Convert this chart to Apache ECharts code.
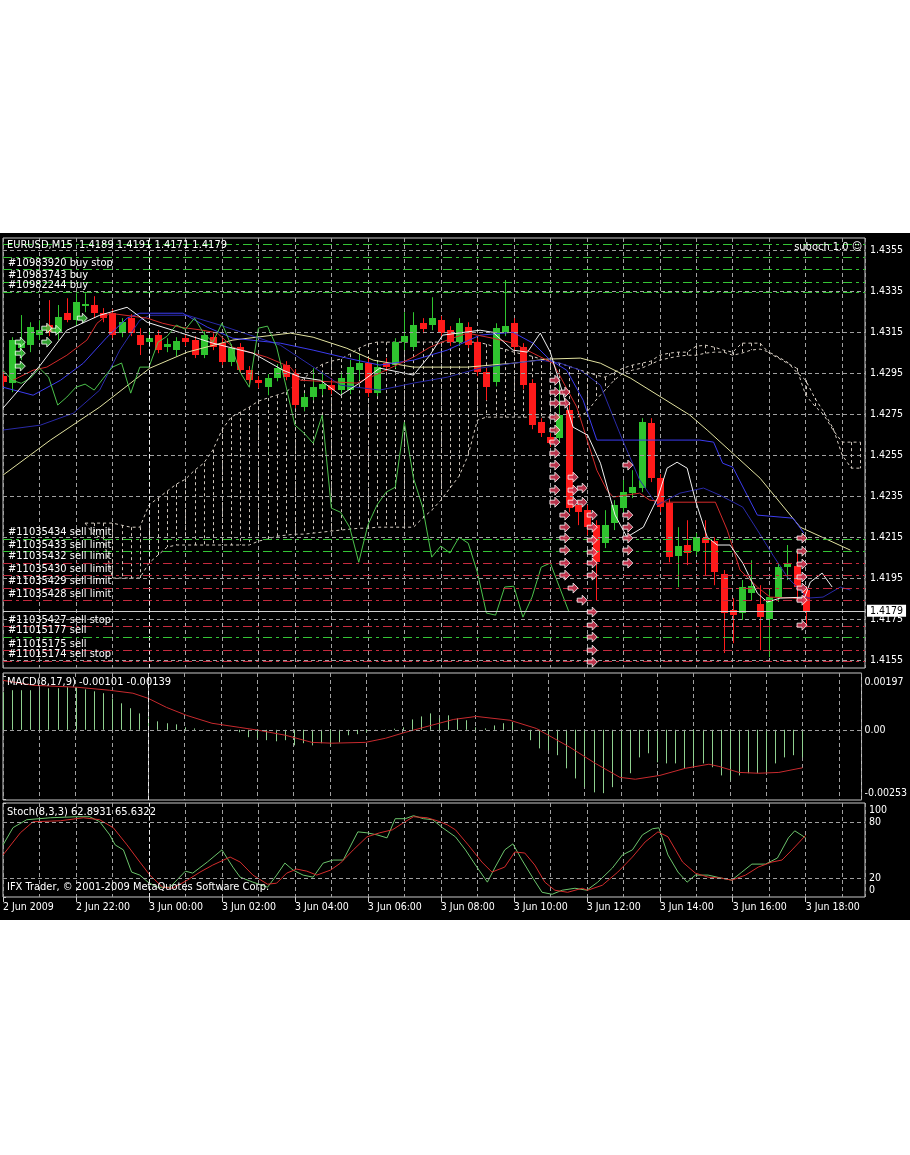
<!DOCTYPE html>
<html><head><meta charset="utf-8">
<script src="https://cdn.jsdelivr.net/npm/echarts@6/dist/echarts.min.js"></script>
<style>
html,body{margin:0;padding:0;background:#fff;width:910px;height:1155px;overflow:hidden;}
#chart{position:absolute;left:0;top:233px;width:910px;height:687px;background:#000;}
</style></head><body><div id="chart"></div>
<script>
// ---------------- DATA ----------------
const priceTicks = [1.4155, 1.4175, 1.4195, 1.4215, 1.4235, 1.4255, 1.4275, 1.4295, 1.4315, 1.4335, 1.4355];
const xTickBars = [0, 8, 16, 24, 32, 40, 48, 56, 64, 72, 80, 88];
const xTickLabels = ['2 Jun 2009','2 Jun 22:00','3 Jun 00:00','3 Jun 02:00','3 Jun 04:00','3 Jun 06:00','3 Jun 08:00','3 Jun 10:00','3 Jun 12:00','3 Jun 14:00','3 Jun 16:00','3 Jun 18:00'];
const dayStartBar = 16;
const currentPrice = 1.4179;

const opens = [1.42935,1.42900,1.43072,1.43087,1.43135,1.43184,1.43144,1.43242,1.43208,1.43277,
1.43282,1.43242,1.43242,1.43144,1.43218,1.43135,1.43101,1.43135,1.43077,1.43062,
1.43120,1.43111,1.43038,1.43125,1.43096,1.43003,1.43077,1.42964,1.42915,1.42881,
1.42925,1.42989,1.42950,1.42784,1.42833,1.42871,1.42891,1.42867,1.42867,1.42964,
1.42999,1.42852,1.42999,1.42989,1.43101,1.43077,1.43193,1.43184,1.43208,1.43159,
1.43101,1.43174,1.43101,1.42954,1.42905,1.43149,1.43193,1.43077,1.42900,1.42710,
1.42638,1.42633,1.42769,1.42306,1.42281,1.42208,1.42120,1.42218,1.42291,1.42364,
1.42389,1.42705,1.42437,1.42315,1.42057,1.42111,1.42081,1.42145,1.42130,1.41969,
1.41793,1.41779,1.41876,1.41823,1.41750,1.41857,1.42003,1.42008,1.4189];
const closes = [1.42905,1.43111,1.43096,1.43174,1.43159,1.43149,1.43223,1.43208,1.43296,1.43286,
1.43242,1.43218,1.43135,1.43198,1.43144,1.43087,1.43120,1.43062,1.43091,1.43106,
1.43101,1.43038,1.43135,1.43077,1.43003,1.43072,1.42964,1.42915,1.42900,1.42925,
1.42974,1.42930,1.42794,1.42833,1.42881,1.42896,1.42867,1.42925,1.42979,1.42999,
1.42852,1.42979,1.42979,1.43101,1.43130,1.43184,1.43164,1.43218,1.43144,1.43101,
1.43193,1.43087,1.42954,1.42881,1.43169,1.43179,1.43077,1.42891,1.42696,1.42657,
1.42608,1.42745,1.42291,1.42271,1.42198,1.42027,1.42208,1.42306,1.42369,1.42393,
1.42710,1.42437,1.42296,1.42052,1.42106,1.42072,1.42149,1.42120,1.41979,1.41779,
1.41769,1.41906,1.41910,1.41759,1.41857,1.42003,1.42023,1.41906,1.4179];
const lows = [1.42886,1.42857,1.43013,1.43052,1.43111,1.43130,1.43111,1.43198,1.43184,1.43247,
1.43218,1.43198,1.43120,1.43125,1.43130,1.43038,1.43082,1.43047,1.43052,1.43033,
1.43082,1.43023,1.43023,1.43062,1.42989,1.42984,1.42950,1.42896,1.42876,1.42842,
1.42910,1.42915,1.42779,1.42764,1.42818,1.42842,1.42847,1.42847,1.42847,1.42915,
1.42833,1.42838,1.42959,1.42974,1.43062,1.43062,1.43144,1.43159,1.43130,1.43082,
1.43082,1.43072,1.42935,1.42818,1.42886,1.43130,1.43057,1.42871,1.42676,1.42638,
1.42589,1.42613,1.42271,1.42208,1.42159,1.41842,1.42096,1.42184,1.42271,1.42340,
1.42369,1.42418,1.42271,1.42027,1.41906,1.42013,1.42062,1.41964,1.41915,1.41584,
1.41632,1.41745,1.41842,1.41598,1.41564,1.41833,1.41940,1.41842,1.4171];
const highs = [1.42954,1.43125,1.43233,1.43198,1.43208,1.43306,1.43282,1.43315,1.43339,1.43339,
1.43325,1.43267,1.43262,1.43218,1.43237,1.43169,1.43159,1.43159,1.43120,1.43125,
1.43140,1.43130,1.43154,1.43144,1.43116,1.43091,1.43096,1.42984,1.42935,1.42945,
1.42994,1.43008,1.42969,1.42852,1.42974,1.42954,1.42925,1.42954,1.43013,1.43038,
1.43023,1.43003,1.43023,1.43120,1.43247,1.43247,1.43218,1.43320,1.43228,1.43179,
1.43218,1.43198,1.43120,1.42974,1.43193,1.43404,1.43218,1.43096,1.42920,1.42730,
1.42657,1.42915,1.42794,1.42330,1.42306,1.42232,1.42281,1.42330,1.42428,1.42476,
1.42730,1.42730,1.42457,1.42335,1.42198,1.42232,1.42169,1.42232,1.42149,1.41989,
1.41852,1.41940,1.42037,1.41915,1.41891,1.42023,1.42111,1.42086,1.4191];

// Ichimoku
const chikou = [1.42964,1.42915,1.42900,1.42925,1.42974,1.42930,1.42794,1.42833,1.42881,1.42896,
1.42867,1.42925,1.42979,1.42999,1.42852,1.42979,1.42979,1.43101,1.43130,1.43184,
1.43164,1.43218,1.43144,1.43101,1.43193,1.43087,1.42954,1.42881,1.43169,1.43179,
1.43077,1.42891,1.42696,1.42657,1.42608,1.42745,1.42291,1.42271,1.42198,1.42027,
1.42208,1.42306,1.42369,1.42393,1.42710,1.42437,1.42296,1.42052,1.42106,1.42072,
1.42149,1.42120,1.41979,1.41779,1.41769,1.41906,1.41910,1.41759,1.41857,1.42003,
1.42023,1.41906,1.4179];
const spanStart = 9;
const spanA = [1.42218,1.42218,1.42218,1.42218,1.42208,1.42198,1.42198,1.42306,1.42340,1.42374,
1.42408,1.42432,1.42476,1.42510,1.42574,1.42672,1.42735,1.42759,1.42784,1.42813,
1.42828,1.42842,1.42857,1.42891,1.42925,1.42964,1.42993,1.43008,1.43018,1.43042,
1.43071,1.43091,1.43101,1.43101,1.43101,1.43101,1.43101,1.43101,1.43101,1.43101,
1.43101,1.43101,1.43101,1.43101,1.43091,1.43076,1.43067,1.43052,1.43042,1.43032,
1.43018,1.43008,1.42998,1.42984,1.42969,1.42954,1.42940,1.42930,1.42954,1.42974,
1.42989,1.42998,1.43008,1.43037,1.43047,1.43052,1.43052,1.43081,1.43086,1.43076,
1.43062,1.43052,1.43096,1.43096,1.43096,1.43047,1.43023,1.42998,1.42974,1.42842,
1.42789,1.42745,1.42672,1.42613,1.42613,1.42613];
const spanB = [1.42218,1.42159,1.42145,1.41950,1.41950,1.41950,1.41950,1.42023,1.42062,1.42101,
1.42111,1.42111,1.42111,1.42111,1.42111,1.42111,1.42111,1.42111,1.42111,1.42130,
1.42140,1.42154,1.42159,1.42164,1.42164,1.42169,1.42174,1.42179,1.42184,1.42188,
1.42193,1.42193,1.42198,1.42198,1.42198,1.42198,1.42198,1.42242,1.42281,1.42330,
1.42389,1.42447,1.42550,1.42720,1.42735,1.42735,1.42735,1.42735,1.42735,1.42735,
1.42735,1.42735,1.42735,1.42735,1.42735,1.42759,1.42818,1.42867,1.42915,1.42950,
1.42964,1.42974,1.42993,1.43013,1.43023,1.43032,1.43037,1.43037,1.43047,1.43052,
1.43052,1.43037,1.43047,1.43062,1.43067,1.43052,1.43028,1.43003,1.42954,1.42915,
1.42828,1.42759,1.42681,1.42550,1.42486,1.42486];
const tenkan = [[1.1,1.42915],[3.3,1.42964],[4.8,1.42979],[7.0,1.43037],[9.2,1.43111],[10.3,1.43193],[11.7,1.43242],[15.8,1.43218],[17.5,1.43193],[19.4,1.43174],[21.9,1.43159],[23.5,1.43145],[25.2,1.43076],[28.9,1.43028],[31.5,1.42979],[32.6,1.42915],[38.8,1.42901],[41.3,1.42950],[45.0,1.43028],[46.8,1.43076],[48.7,1.43111],[50.9,1.43145],[53.7,1.43120],[55.9,1.43096],[58.1,1.43047],[60.3,1.42998],[62.9,1.42784],[63.6,1.42686],[65.1,1.42476],[66.2,1.42379],[66.9,1.42345],[69.8,1.42364],[70.9,1.42330],[72.8,1.42320],[78.1,1.42320],[79.4,1.42184],[80.8,1.41989],[82.7,1.41906],[84.1,1.41857],[86.6,1.41852],[87.8,1.41842]];
const kijun = [[0,1.42881],[3.3,1.42842],[6.3,1.42915],[8.8,1.42998],[11.4,1.43125],[13.6,1.43218],[15.0,1.43242],[19.7,1.43242],[22.4,1.43174],[25.2,1.43120],[30.4,1.43096],[34.0,1.43062],[37.7,1.43023],[41.3,1.42989],[45.0,1.43013],[48.7,1.43062],[52.3,1.43135],[55.9,1.43149],[58.1,1.43096],[60.0,1.43013],[61.8,1.42964],[63.6,1.42818],[65.1,1.42623],[76.4,1.42623],[77.9,1.42613],[78.9,1.42510],[80.0,1.42491],[82.7,1.42257],[86.6,1.42242],[87.8,1.42169]];
// moving averages
const maWhite = [[0,1.42779],[4.1,1.42989],[7.0,1.43159],[10.6,1.43232],[13.6,1.43271],[15.8,1.43198],[18.6,1.43159],[23.0,1.43096],[27.4,1.43047],[30.7,1.42964],[32.6,1.42930],[34.8,1.42915],[37.0,1.42842],[39.1,1.42901],[41.3,1.42974],[43.5,1.42954],[45.0,1.42940],[46.8,1.43037],[48.2,1.43135],[52.3,1.43159],[53.7,1.43149],[55.9,1.43062],[57.5,1.43052],[58.9,1.43145],[60.0,1.43052],[61.1,1.42891],[62.5,1.42686],[64.1,1.42647],[65.5,1.42510],[67.1,1.42257],[68.4,1.42150],[70.2,1.42198],[71.8,1.42345],[72.8,1.42486],[73.9,1.42515],[75.0,1.42486],[75.9,1.42330],[77.2,1.42150],[78.3,1.42111],[79.7,1.42111],[81.1,1.42023],[82.7,1.41876],[83.8,1.41833],[85.2,1.41852],[87.9,1.41857],[88.5,1.41930],[89.8,1.41974],[90.9,1.41906]];
const maKhaki = [[0,1.42452],[5.2,1.42623],[10.6,1.42784],[16.1,1.42974],[20.2,1.43052],[25.2,1.43111],[31.5,1.43145],[34.0,1.43125],[37.7,1.43071],[40.6,1.43013],[45.0,1.42979],[50.9,1.42979],[55.9,1.42998],[59.6,1.43018],[63.3,1.43023],[65.5,1.42998],[68.8,1.42925],[75.3,1.42745],[77.2,1.42672],[83.0,1.42437],[87.4,1.42198],[92.9,1.42086]];
const maNavy = [[0,1.42672],[4.1,1.42696],[7.7,1.42754],[10.6,1.42867],[12.8,1.43062],[15.0,1.43208],[16.1,1.43232],[20.2,1.43232],[23.8,1.43184],[27.1,1.43135],[30.4,1.43086],[33.7,1.42989],[37.0,1.42891],[41.3,1.42867],[45.0,1.42901],[48.7,1.42930],[52.3,1.42974],[55.9,1.42998],[58.9,1.43013],[61.1,1.42998],[63.3,1.42964],[65.5,1.42891],[67.7,1.42647],[69.8,1.42428],[71.7,1.42306],[74.2,1.42364],[76.8,1.42389],[78.6,1.42354],[81.1,1.42296],[82.7,1.42184],[84.4,1.42062],[86.0,1.41954],[88.2,1.41852],[89.9,1.41857],[91.8,1.41906],[92.9,1.41891]];

// trade arrows [bar, price]
const sellArrows = [[60.5,1.42915],[60.5,1.42857],[60.5,1.42803],[60.5,1.42735],[60.5,1.42672],[60.5,1.42613],[60.5,1.42559],[60.5,1.42501],[60.5,1.42442],[60.5,1.42379],[60.5,1.42320],
[61.6,1.42857],[61.6,1.42803],[61.6,1.42257],[61.6,1.42198],[61.6,1.42145],[61.6,1.42086],[61.6,1.42023],[61.6,1.41964],
[62.5,1.42442],[62.5,1.42379],[62.5,1.42320],[62.5,1.41901],
[63.5,1.42389],[63.5,1.42320],[63.5,1.41842],
[64.6,1.42257],[64.6,1.42198],[64.6,1.42135],[64.6,1.42076],[64.6,1.42023],[64.6,1.41964],[64.6,1.41784],[64.6,1.41720],[64.6,1.41662],[64.6,1.41598],[64.6,1.41540],
[68.5,1.42501],[68.5,1.42257],[68.5,1.42198],[68.5,1.42145],[68.5,1.42086],[68.5,1.42023],
[87.6,1.42145],[87.6,1.42081],[87.6,1.42018],[87.6,1.41955],[87.6,1.41901],[87.6,1.41842],[87.6,1.41720]];
const buyArrows = [[1.9,1.43101],[1.9,1.43047],[1.9,1.42984],[4.8,1.43169],[4.8,1.43101],[5.8,1.43159],[8.7,1.43218]];

// order lines
const orderPrices = [1.43579,1.43516,1.43457,1.43394,1.43345,1.42140,1.42081,1.42023,1.41964,1.41901,1.41842,1.41715,1.41662,1.41598,1.41545];
const orderLabels = ['','','#10983920 buy stop','#10983743 buy','#10982244 buy','#11035434 sell limit','#11035433 sell limit','#11035432 sell limit','#11035430 sell limit','#11035429 sell limit','#11035428 sell limit','#11035427 sell stop','#11015177 sell','#11015175 sell','#11015174 sell stop'];
const orderGroup = ['g','g','g','g','g','g','g','r','r','r','r','r','g','r','r'];

// MACD
const macdTicks = [-0.00253, 0, 0.00197];
const macdMain = [0.00138,0.00145,0.00145,0.00145,0.00145,0.00152,0.00152,0.00156,0.00156,0.00148,
0.00141,0.00134,0.00115,0.00097,0.00079,0.00060,0.00046,0.00031,0.00024,0.00020,
0.00009,0.00005,0.00001,0.0,-0.00002,-0.00004,-0.00009,-0.00027,-0.00031,-0.00038,
-0.00042,-0.00038,-0.00057,-0.00049,-0.00057,-0.00049,-0.00057,-0.00046,-0.00020,-0.00016,
-0.00009,-0.00002,0.00001,0.00004,0.00009,0.00038,0.00049,0.00060,0.00042,0.00053,
0.00042,0.00035,0.00009,0.00005,0.00016,0.00024,0.00027,0.00002,-0.00038,-0.00068,
-0.00075,-0.00093,-0.00141,-0.00178,-0.00210,-0.00229,-0.00232,-0.00210,-0.00178,-0.00159,
-0.00101,-0.00086,-0.00119,-0.00123,-0.00123,-0.00141,-0.00137,-0.00123,-0.00137,-0.00167,
-0.00185,-0.00167,-0.00159,-0.00159,-0.00156,-0.00123,-0.00101,-0.00093,-0.00101];
const macdSignal = [[0,0.00181],[3.3,0.00163],[8.1,0.00156],[11.7,0.00145],[14.3,0.00134],[16,0.00115],[18,0.00082],[20.2,0.00053],[23,0.00024],[26,0.00009],[28.2,-0.00002],[31.1,-0.00020],[34,-0.00046],[36.2,-0.00049],[39.9,-0.00046],[42.1,-0.00031],[44.3,-0.00009],[47.1,0.00016],[49.6,0.00038],[52.1,0.00049],[55.8,0.00035],[58.7,0.00005],[62.4,-0.00064],[65.2,-0.00123],[67.9,-0.00174],[69.6,-0.00181],[72.3,-0.00167],[75.1,-0.00141],[77.7,-0.00126],[78.8,-0.00134],[81,-0.00156],[83.2,-0.00159],[85.4,-0.00156],[88,-0.00139]];

// Stochastic
const stochTicks = [0, 20, 80, 100];
const stochLevels = [20, 80];
const stochK = [[0,55.4],[1.1,73.8],[2.6,82.2],[5.2,84.3],[8.1,85.4],[9.5,85.4],[10.6,80.1],[11.7,66.1],[12.3,55.4],[13.2,50.1],[14.1,26.5],[15,23.3],[15.9,15.8],[16.9,10.4],[18.3,10.4],[20,27.5],[20.8,25.4],[22.4,37.2],[24,50.1],[25.2,31.8],[26,21.1],[27.4,15.8],[29,10.4],[30,23.3],[30.9,36.1],[31.8,28.6],[32.9,23.3],[34,21.1],[35.1,36.1],[36.2,39.3],[37.3,39.3],[38.9,69.3],[39.9,68.3],[41,66.1],[42.1,62.9],[43,83.3],[44.1,83.3],[45,86.5],[46.1,83.3],[47.1,82.2],[48.2,73.6],[49.6,64.0],[50.7,50.1],[51.8,34.0],[53.1,15.8],[53.9,30.8],[55,50.1],[55.9,56.5],[56.9,39.3],[58.1,20.0],[59.1,5.0],[60.2,2.9],[61.3,7.2],[62.7,9.3],[64,7.2],[65.2,15.8],[66.8,30.8],[67.9,44.7],[69,50.1],[70.1,66.1],[71.2,72.6],[71.9,73.6],[72.9,44.7],[74,26.5],[75,15.8],[75.9,23.3],[77.3,23.3],[78.8,20.0],[79.9,17.9],[81,26.5],[82.1,35.0],[83.6,35.0],[84.9,41.5],[86.1,62.9],[86.8,70.4],[88,62.89]];
const stochD = [[0,44.7],[1.9,68.3],[3.3,80.1],[6.3,81.1],[8.8,84.3],[10.6,82.2],[12.1,73.6],[13.6,55.4],[15,37.2],[16.1,23.3],[17.5,10.4],[18.6,9.3],[20.2,17.9],[21.6,26.5],[23,34.0],[24.9,42.5],[26,37.2],[27.4,23.3],[29,13.6],[30,14.7],[31.1,25.4],[32.2,29.7],[33.3,27.5],[34.4,23.3],[35.9,28.6],[37,36.1],[38.4,50.1],[39.9,64.0],[41.3,68.3],[42.7,71.5],[43.9,79.0],[45,85.4],[46.5,84.3],[47.6,81.1],[48.7,76.8],[49.6,71.5],[51,55.4],[52.5,37.2],[53.6,26.5],[55,31.8],[56.1,47.9],[57.2,46.8],[58.3,34.0],[59.4,15.8],[60.5,7.2],[61.9,5.0],[63.5,9.3],[64.1,7.2],[65.7,12.5],[67.4,26.5],[69,42.5],[70.4,58.6],[71.8,69.3],[72.9,64.0],[74.5,37.2],[75.9,25.4],[77.3,21.1],[78.8,20.0],[79.9,17.9],[81.4,23.3],[82.8,31.8],[84.3,37.2],[85.4,39.3],[86.5,50.1],[88,65.63]];

// ---------------- CHART ----------------
const FONT = "'DejaVu Sans Condensed', 'Liberation Sans', sans-serif";
const GRIDC = '#a0a0a0';
const FRAME = '#c8c8c8';
const XMAX = 94.5;
const chart = echarts.init(document.getElementById('chart'), null, {renderer: 'canvas'});

const candleData = opens.map((o, i) => [i, o, closes[i], lows[i], highs[i]]);
const cloudData = spanA.map((a, k) => [k + spanStart, a, spanB[k]]);
const spanAData = spanA.map((a, k) => [k + spanStart, a]);
const spanBData = spanB.map((b, k) => [k + spanStart, b]);
const chikouData = chikou.map((v, i) => [i, v]);
const macdData = macdMain.map((v, i) => [i, v]);

function xAxisBase(gi) {
  return {gridIndex: gi, type: 'value', min: 0, max: XMAX, interval: 4,
    axisLine: {show: false}, axisTick: {show: false}, axisLabel: {show: false},
    splitLine: {show: true, lineStyle: {color: GRIDC, type: [4, 3], width: 1}}};
}
const sepLine = {xAxis: dayStartBar, lineStyle: {color: '#ececec', type: [4, 3], width: 1}, label: {show: false}};
const gridDash = {color: GRIDC, type: [4, 3], width: 1};

const option = {
  animation: false,
  backgroundColor: '#000',
  textStyle: {fontFamily: FONT},
  grid: [
    {left: 3, top: 5, width: 862, height: 430, show: true, borderColor: FRAME, borderWidth: 1, backgroundColor: 'transparent'},
    {left: 3, top: 440, width: 862, height: 127, show: true, borderColor: FRAME, borderWidth: 1, backgroundColor: 'transparent'},
    {left: 3, top: 570, width: 862, height: 94, show: true, borderColor: FRAME, borderWidth: 1, backgroundColor: 'transparent'}
  ],
  xAxis: [
    xAxisBase(0), xAxisBase(1), xAxisBase(2),
    {gridIndex: 2, type: 'value', min: 0, max: XMAX, position: 'bottom',
      axisLine: {show: false}, splitLine: {show: false},
      axisTick: {show: true, customValues: xTickBars, length: 5, lineStyle: {color: FRAME}},
      axisLabel: {show: true, customValues: xTickBars, color: '#fff', fontSize: 10.5, fontFamily: FONT, align: 'left', margin: 5,
        formatter: v => xTickLabels[xTickBars.indexOf(Math.round(v))] || ''}}
  ],
  yAxis: [
    {gridIndex: 0, type: 'value', position: 'right', min: 1.41511, max: 1.43609,
      axisLine: {show: false}, splitLine: {show: false},
      axisTick: {show: true, customValues: priceTicks, length: 4, lineStyle: {color: FRAME}},
      axisLabel: {customValues: priceTicks, color: '#fff', fontSize: 10.5, fontFamily: FONT, margin: 5, formatter: v => v.toFixed(4)}},
    {gridIndex: 1, type: 'value', position: 'right', min: -0.00257, max: 0.00208,
      axisLine: {show: false}, splitLine: {show: false},
      axisTick: {show: true, customValues: macdTicks, length: 3, lineStyle: {color: FRAME}},
      axisLabel: {customValues: macdTicks, color: '#fff', fontSize: 10.5, fontFamily: FONT, margin: 3,
        formatter: v => v > 0.0005 ? '{t|' + v.toFixed(5) + '}' : (v < -0.0005 ? '{b|' + v.toFixed(5) + '}' : '0.00'),
        rich: {t: {padding: [12, 0, 0, 0], color: '#fff', fontSize: 10.5, fontFamily: FONT},
               b: {padding: [0, 0, 12, 0], color: '#fff', fontSize: 10.5, fontFamily: FONT}}}},
    {gridIndex: 2, type: 'value', position: 'right', min: 0, max: 100,
      axisLine: {show: false}, splitLine: {show: false},
      axisTick: {show: true, customValues: stochTicks, length: 3, lineStyle: {color: FRAME}},
      axisLabel: {customValues: stochTicks, color: '#fff', fontSize: 10.5, fontFamily: FONT, margin: 4,
        formatter: v => v === 100 ? '{t|100}' : (v === 0 ? '{b|0}' : String(v)),
        rich: {t: {padding: [15, 0, 0, 0], color: '#fff', fontSize: 10.5, fontFamily: FONT},
               b: {padding: [0, 0, 13, 0], color: '#fff', fontSize: 10.5, fontFamily: FONT}}}}
  ],
  series: [
    // Ichimoku cloud hatching
    {type: 'custom', name: 'cloud', xAxisIndex: 0, yAxisIndex: 0, clip: true, z: 1, silent: true,
      encode: {x: 0, y: [1, 2]}, data: cloudData,
      renderItem: (params, api) => {
        const p1 = api.coord([api.value(0), api.value(1)]);
        const p2 = api.coord([api.value(0), api.value(2)]);
        const x = Math.round(p1[0]) + 0.5;
        return {type: 'line', shape: {x1: x, y1: p1[1], x2: x, y2: p2[1]},
          style: {stroke: '#cfc6bc', lineWidth: 1, lineDash: [3, 3]}};
      }},
    {type: 'line', name: 'spanA', xAxisIndex: 0, yAxisIndex: 0, data: spanAData, showSymbol: false, z: 1, silent: true,
      lineStyle: {color: '#d8cfc4', width: 1, type: [3, 3]},
      markLine: {silent: true, symbol: ['none', 'none'], precision: 5, animation: false,
        data: priceTicks.map(v => ({yAxis: v, lineStyle: gridDash, label: {show: false}})).concat([sepLine])}},
    {type: 'line', name: 'spanB', xAxisIndex: 0, yAxisIndex: 0, data: spanBData, showSymbol: false, z: 1, silent: true,
      lineStyle: {color: '#d8cfc4', width: 1, type: [3, 3]}},
    // Candles
    {type: 'custom', name: 'EURUSD', xAxisIndex: 0, yAxisIndex: 0, clip: true, z: 3, silent: true,
      encode: {x: 0, y: [1, 2, 3, 4]}, data: candleData,
      renderItem: (params, api) => {
        const x = api.value(0), o = api.value(1), c = api.value(2), l = api.value(3), h = api.value(4);
        const po = api.coord([x, o]), pc = api.coord([x, c]), pl = api.coord([x, l]), ph = api.coord([x, h]);
        const col = c >= o ? '#2fc42f' : '#ff1a1a';
        const x0 = Math.round(po[0]);
        const top = Math.round(Math.min(po[1], pc[1])), bot = Math.round(Math.max(po[1], pc[1]));
        return {type: 'group', children: [
          {type: 'line', shape: {x1: x0 + 0.5, y1: ph[1], x2: x0 + 0.5, y2: pl[1]}, style: {stroke: col, lineWidth: 1}},
          {type: 'rect', shape: {x: x0 - 3, y: top, width: 7, height: Math.max(1, bot - top)}, style: {fill: col}}
        ]};
      }},
    // Indicator lines
    {type: 'line', name: 'khaki', xAxisIndex: 0, yAxisIndex: 0, data: maKhaki, showSymbol: false, z: 4, silent: true,
      lineStyle: {color: '#e2e2a0', width: 1},
      markLine: {silent: true, symbol: ['none', 'none'], precision: 5, animation: false,
        data: orderPrices.map((p, i) => ({yAxis: p, name: orderLabels[i],
          lineStyle: {color: orderGroup[i] === 'g' ? '#35c435' : '#c42a3e', type: [9, 4, 3, 4], width: 1},
          label: {show: orderLabels[i] !== '', position: 'insideStartTop', formatter: '{b}', color: '#fff',
            fontSize: 11, fontFamily: FONT, distance: [5, 1]}}))}},
    {type: 'line', name: 'navy', xAxisIndex: 0, yAxisIndex: 0, data: maNavy, showSymbol: false, z: 4, silent: true,
      lineStyle: {color: '#2a2aa8', width: 1}},
    {type: 'line', name: 'kijun', xAxisIndex: 0, yAxisIndex: 0, data: kijun, showSymbol: false, z: 4, silent: true,
      lineStyle: {color: '#3c3cf0', width: 1}},
    {type: 'line', name: 'tenkan', xAxisIndex: 0, yAxisIndex: 0, data: tenkan, showSymbol: false, z: 4, silent: true,
      lineStyle: {color: '#d42a2a', width: 1}},
    {type: 'line', name: 'chikou', xAxisIndex: 0, yAxisIndex: 0, data: chikouData, showSymbol: false, z: 4, silent: true,
      lineStyle: {color: '#4cc24c', width: 1}},
    {type: 'line', name: 'white', xAxisIndex: 0, yAxisIndex: 0, data: maWhite, showSymbol: false, z: 4, silent: true,
      lineStyle: {color: '#f2f2f2', width: 1},
      markLine: {silent: true, symbol: ['none', 'none'], precision: 5, animation: false,
        data: [
          {yAxis: currentPrice, lineStyle: {color: '#d0d0d0', type: 'solid', width: 1},
            label: {show: true, position: 'end', formatter: currentPrice.toFixed(4), color: '#000', backgroundColor: '#fff',
              padding: [1, 3, 0, 3], fontSize: 10.5, fontFamily: FONT, distance: 2}}
        ]}},
    // Trade arrows
    {type: 'scatter', name: 'sells', xAxisIndex: 0, yAxisIndex: 0, data: sellArrows, z: 6, silent: true,
      symbol: 'path://M0,3 L5,3 L5,0 L10,5 L5,10 L5,7 L0,7 Z', symbolSize: [10, 10],
      itemStyle: {color: '#e5405e', borderColor: '#ffffff', borderWidth: 1}},
    {type: 'scatter', name: 'buys', xAxisIndex: 0, yAxisIndex: 0, data: buyArrows, z: 6, silent: true,
      symbol: 'path://M0,3 L5,3 L5,0 L10,5 L5,10 L5,7 L0,7 Z', symbolSize: [10, 10],
      itemStyle: {color: '#3cc83c', borderColor: '#ffffff', borderWidth: 1}},
    // MACD
    {type: 'custom', name: 'macd', xAxisIndex: 1, yAxisIndex: 1, clip: true, z: 3, silent: true,
      encode: {x: 0, y: 1}, data: macdData,
      renderItem: (params, api) => {
        const p0 = api.coord([api.value(0), 0]);
        const p1 = api.coord([api.value(0), api.value(1)]);
        const x = Math.round(p0[0]) + 0.5;
        return {type: 'line', shape: {x1: x, y1: p0[1], x2: x, y2: p1[1]}, style: {stroke: '#8fd08f', lineWidth: 1}};
      },
      markLine: {silent: true, symbol: ['none', 'none'], precision: 6, animation: false,
        data: [{yAxis: 0, lineStyle: gridDash, label: {show: false}}, sepLine]}},
    {type: 'line', name: 'signal', xAxisIndex: 1, yAxisIndex: 1, data: macdSignal, showSymbol: false, z: 4, silent: true,
      lineStyle: {color: '#c82a2e', width: 1}},
    // Stochastic
    {type: 'line', name: 'stochK', xAxisIndex: 2, yAxisIndex: 2, data: stochK, showSymbol: false, z: 4, silent: true,
      lineStyle: {color: '#6cc46c', width: 1},
      markLine: {silent: true, symbol: ['none', 'none'], precision: 2, animation: false,
        data: stochLevels.map(v => ({yAxis: v, lineStyle: gridDash, label: {show: false}})).concat([sepLine])}},
    {type: 'line', name: 'stochD', xAxisIndex: 2, yAxisIndex: 2, data: stochD, showSymbol: false, z: 4, silent: true,
      lineStyle: {color: '#d42c2c', width: 1}}
  ],
  graphic: [
    {type: 'text', left: 7, top: 7, z: 100, style: {text: 'EURUSD,M15  1.4189 1.4191 1.4171 1.4179', fill: '#fff', font: '11px ' + FONT}},
    {type: 'text', right: 48, top: 9, z: 100, style: {text: 'suboch 1.0 \u263A', fill: '#fff', font: '11px ' + FONT}},
    {type: 'text', left: 7, top: 444, z: 100, style: {text: 'MACD(8,17,9) -0.00101 -0.00139', fill: '#fff', font: '11px ' + FONT}},
    {type: 'text', left: 7, top: 574, z: 100, style: {text: 'Stoch(8,3,3) 62.8931 65.6322', fill: '#fff', font: '11px ' + FONT}},
    {type: 'text', left: 7, top: 649, z: 100, style: {text: 'IFX Trader, \u00A9 2001-2009 MetaQuotes Software Corp.', fill: '#fff', font: '11px ' + FONT}}
  ]
};
chart.setOption(option);
</script></body></html>
